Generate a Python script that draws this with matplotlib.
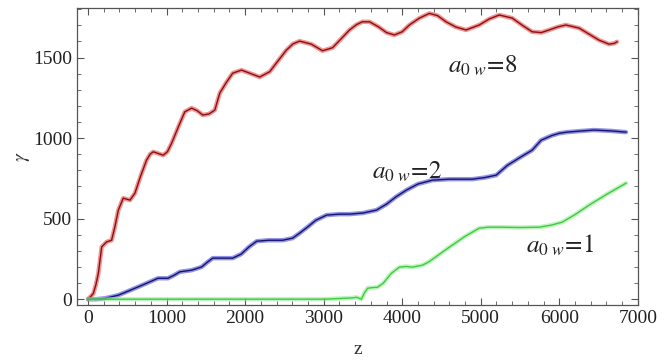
import numpy as np
import matplotlib
matplotlib.use("Agg")
import matplotlib.pyplot as plt
from matplotlib.ticker import MultipleLocator

# values (z, gamma)
z_a8 = [0, 30, 67, 100, 131, 174, 237, 300, 340, 385, 448, 534, 597, 670, 745,
        790, 830, 890, 957, 1010, 1064, 1150, 1232, 1318, 1390, 1461, 1540,
        1614, 1677, 1760, 1842, 1953, 2058, 2185, 2313, 2420, 2525, 2610, 2694,
        2843, 2986, 3113, 3220, 3329, 3420, 3494, 3583, 3700, 3800, 3900, 4000,
        4091, 4220, 4346, 4450, 4558, 4680, 4812, 4981, 5110, 5235, 5400, 5530,
        5654, 5770, 5870, 5980, 6083, 6252, 6380, 6506, 6633, 6700, 6734]
g_a8 = [0, 15, 35, 90, 160, 325, 356, 366, 445, 552, 627, 615, 658, 765, 863,
        900, 915, 905, 894, 915, 968, 1070, 1163, 1186, 1170, 1143, 1150, 1174,
        1279, 1345, 1403, 1422, 1403, 1379, 1412, 1480, 1546, 1585, 1602, 1583,
        1542, 1561, 1615, 1671, 1705, 1722, 1722, 1690, 1655, 1640, 1660, 1702,
        1745, 1774, 1760, 1722, 1690, 1671, 1702, 1740, 1764, 1745, 1700, 1660,
        1655, 1671, 1690, 1702, 1683, 1645, 1608, 1583, 1588, 1598]

z_a2 = [0, 100, 216, 300, 385, 500, 640, 760, 890, 1017, 1100, 1169, 1318,
        1445, 1520, 1588, 1700, 1842, 1950, 2050, 2147, 2300, 2478, 2605, 2694,
        2800, 2900, 3037, 3200, 3329, 3500, 3672, 3800, 3920, 4053, 4200, 4384,
        4600, 4892, 5050, 5197, 5337, 5500, 5654, 5769, 5900, 6000, 6099, 6300,
        6442, 6650, 6849]
g_a2 = [0, 0, 6, 15, 25, 48, 77, 102, 130, 130, 150, 170, 180, 200, 230, 255,
        255, 255, 280, 325, 360, 366, 366, 379, 410, 450, 490, 522, 528, 528,
        535, 553, 590, 635, 677, 715, 739, 745, 745, 755, 770, 830, 880, 925,
        987, 1015, 1030, 1037, 1045, 1050, 1045, 1037]

z_a1 = [0, 1000, 2000, 3000, 3367, 3420, 3480, 3520, 3560, 3620, 3685, 3760,
        3860, 3964, 4050, 4130, 4257, 4340, 4420, 4600, 4800, 4981, 5100, 5235,
        5500, 5743, 5900, 6036, 6200, 6379, 6600, 6849]
g_a1 = [0, 0, 0, 0, 8, 12, 0, 40, 68, 72, 74, 100, 160, 199, 203, 199, 211,
        232, 260, 323, 390, 441, 447, 447, 445, 447, 460, 478, 525, 584, 650,
        720]

curves = [
    (z_a8, g_a8, "#e23a3a", "#8a1010"),
    (z_a2, g_a2, "#3a3ad0", "#14146e"),
    (z_a1, g_a1, "#8fe88f", "#3ccc3c"),
]
labels = [(4580, 1404, r"$a_{0\ w}\!=\!8$"),
          (3610, 750, r"$a_{0\ w}\!=\!2$"),
          (5580, 286, r"$a_{0\ w}\!=\!1$")]

plt.rcParams["font.family"] = ["Liberation Serif", "DejaVu Serif"]
plt.rcParams["mathtext.fontset"] = "stix"

fig = plt.figure(figsize=(6.7, 3.62), dpi=100)
ax = fig.add_axes([0.115, 0.157, 0.837, 0.822])

for z, g, halo, core in curves:
    ax.plot(z, g, color=halo, lw=3.2, alpha=0.55, solid_capstyle="round",
            solid_joinstyle="round")
    ax.plot(z, g, color=core, lw=1.0, solid_joinstyle="round")

for x, y, s in labels:
    ax.text(x, y, s, fontsize=18, color="#222222")

ax.set_xlim(-140, 7000)
ax.set_ylim(-37, 1810)
ax.xaxis.set_major_locator(MultipleLocator(1000))
ax.xaxis.set_minor_locator(MultipleLocator(200))
ax.yaxis.set_major_locator(MultipleLocator(500))
ax.yaxis.set_minor_locator(MultipleLocator(100))
ax.tick_params(which="both", direction="in", top=True, right=True,
               color="#555555", labelsize=14, labelcolor="#222222")
ax.tick_params(which="major", length=5)
ax.tick_params(which="minor", length=3)
for sp in ax.spines.values():
    sp.set_color("#555555")
    sp.set_linewidth(0.9)

ax.set_xlabel("z", fontsize=14, color="#333333", labelpad=10)
ax.set_ylabel(r"$\gamma$", fontsize=14, color="#333333", labelpad=1)

fig.savefig("out.png", dpi=100)
